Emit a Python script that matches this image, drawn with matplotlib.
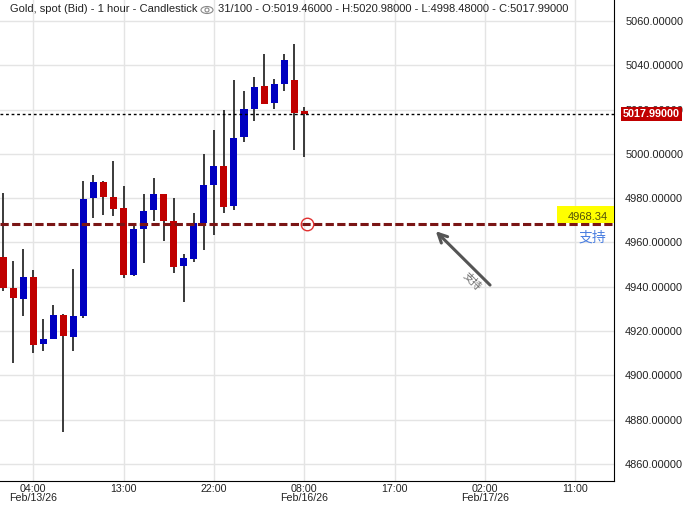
import numpy as np
import matplotlib
matplotlib.use('Agg')
import matplotlib.pyplot as plt
from matplotlib.patches import Ellipse, Rectangle

plt.rcParams['font.family'] = ['Liberation Sans', 'Noto Sans CJK SC', 'DejaVu Sans']

# hourly OHLC, Feb/13/26 01:00 .. Feb/16/26 08:00
opens = [4953.6, 4939.6, 4934.6, 4944.4, 4914.3, 4916.6, 4927.3, 4917.5, 4926.9, 4980.2,
         4987.3, 4980.5, 4975.6, 4945.5, 4966.2, 4974.8, 4981.9, 4969.7, 4949.5, 4952.5,
         4968.8, 4986.0, 4994.5, 4976.6, 5007.8, 5020.4, 5030.7, 5023.1, 5031.7, 5033.4,
         5019.46]
highs = [4982.2, 4951.6, 4957.1, 4947.6, 4925.5, 4931.8, 4927.7, 4948.0, 4987.8, 4990.5,
         4987.8, 4996.8, 4985.5, 4967.6, 4981.9, 4989.1, 4982.0, 4980.1, 4954.8, 4973.3,
         5000.0, 5010.8, 5019.8, 5033.4, 5028.4, 5034.7, 5045.1, 5033.8, 5045.1, 5049.6,
         5020.98]
lows = [4938.2, 4905.7, 4926.9, 4910.2, 4911.2, 4916.4, 4874.6, 4911.2, 4926.0, 4971.2,
        4972.4, 4972.1, 4944.1, 4944.9, 4950.9, 4969.7, 4960.8, 4946.4, 4933.1, 4951.1,
        4956.8, 4963.5, 4973.5, 4974.8, 5005.5, 5015.0, 5022.5, 5020.4, 5028.5, 5001.9,
        4998.48]
closes = [4939.6, 4935.1, 4944.4, 4913.9, 4916.4, 4927.3, 4917.9, 4926.8, 4979.6, 4987.3,
          4980.7, 4975.3, 4945.5, 4966.1, 4974.2, 4981.9, 4969.9, 4949.1, 4953.0, 4968.8,
          4986.0, 4994.5, 4976.2, 5007.2, 5020.3, 5030.2, 5022.7, 5031.6, 5042.4, 5018.6,
          5017.99]

tick_pos = [3, 12, 21, 30, 39, 48, 57]
tick_labels = ['04:00\nFeb/13/26', '13:00', '22:00', '08:00\nFeb/16/26', '17:00',
               '02:00\nFeb/17/26', '11:00']
y_ticks = list(range(4860, 5061, 20))

support = 4968.34
support_label = '支持'
# annotation arrow (tail -> head)
arrow_tail = (48.7, 4939.9)
arrow_head = (42.9, 4966.0)

o = np.array(opens)
h = np.array(highs)
l = np.array(lows)
c = np.array(closes)
x = np.arange(len(o))
up = c >= o

fig = plt.figure(figsize=(6.83, 5.05), dpi=100)
ax = fig.add_axes([0, 0.0475, 0.899, 0.9525])

ax.set_xlim(-0.3, 60.85)
ax.set_ylim(4852.3, 5069.5)

# grid
ax.set_yticks(y_ticks)
ax.set_xticks(tick_pos)
ax.set_xticklabels(tick_labels, linespacing=0.95)
ax.grid(True, color='#e4e4e4', lw=1)
ax.set_axisbelow(True)

# candles
ax.vlines(x, l, h, color='#2b2b2b', lw=1.3, zorder=2)
colors = np.where(up, '#0000c0', '#c00000')
ax.bar(x, np.abs(c - o), bottom=np.minimum(o, c), width=0.7, color=colors, zorder=3)

# last close line
ax.axhline(c[-1], color='black', lw=1, ls=(0, (2, 2)), zorder=4)
ax.text(1.0 + 9 / 614, c[-1], f'{c[-1]:.5f}', transform=ax.get_yaxis_transform(),
        ha='left', va='center', color='white', fontsize=7.8, fontweight='bold', clip_on=False,
        bbox=dict(boxstyle='square,pad=0.2', fc='#c00000', ec='none'), zorder=6)

# support line
ax.axhline(support, color='#7a1515', lw=2.2, ls=(0, (2.7, 1.1)), zorder=4)
ax.plot(30.3, support, marker='o', mfc='none', mec='#e03030', ms=9, mew=1, zorder=5)
ax.add_patch(Rectangle((0.907, support + 0.5), 0.093, 7.7, transform=ax.get_yaxis_transform(),
                       fc='#ffff00', ec='none', zorder=5))
ax.text(0.99, support + 3.2, f'{support:.2f}', transform=ax.get_yaxis_transform(),
        ha='right', va='center', fontsize=8, color='#50500a', zorder=6)
ax.text(0.988, support - 6.2, support_label, transform=ax.get_yaxis_transform(),
        ha='right', va='center', fontsize=10, color='#4a7ee0', zorder=6)

ax.annotate('', xy=arrow_head, xytext=arrow_tail,
            arrowprops=dict(arrowstyle='->', color='#555555', lw=2.2, mutation_scale=16),
            zorder=5)
ax.text(46.7, 4942.2, support_label, rotation=-45, ha='center', va='center',
        fontsize=7.5, color='#666666', zorder=5)

# axes style
for s in ['top', 'left']:
    ax.spines[s].set_visible(False)
ax.spines['right'].set_color('black')
ax.spines['bottom'].set_color('black')
ax.yaxis.tick_right()
ax.yaxis.set_major_formatter(matplotlib.ticker.FormatStrFormatter('%.5f'))
ax.tick_params(axis='y', length=0, pad=8, labelsize=7.9, labelcolor='#222222')
ax.tick_params(axis='x', length=0, pad=2, labelsize=7.7, labelcolor='#222222')

# header
fig.text(10 / 683, 1 - 9 / 505, 'Gold, spot (Bid) - 1 hour - Candlestick', ha='left',
         va='center', fontsize=8, color='#222222')
fig.add_artist(Ellipse((207 / 683, 1 - 10 / 505), 12 / 683, 7 / 505, transform=fig.transFigure,
                       fc='none', ec='#888888', lw=0.8))
fig.add_artist(Ellipse((207 / 683, 1 - 10 / 505), 4 / 683, 4 / 505, transform=fig.transFigure,
                       fc='none', ec='#888888', lw=0.8))
fig.text(218 / 683, 1 - 9 / 505,
         f'{len(o)}/100 - O:{o[-1]:.5f} - H:{h[-1]:.5f} - L:{l[-1]:.5f} - C:{c[-1]:.5f}',
         ha='left', va='center', fontsize=8, color='#222222')

fig.savefig('out.png', dpi=100)
